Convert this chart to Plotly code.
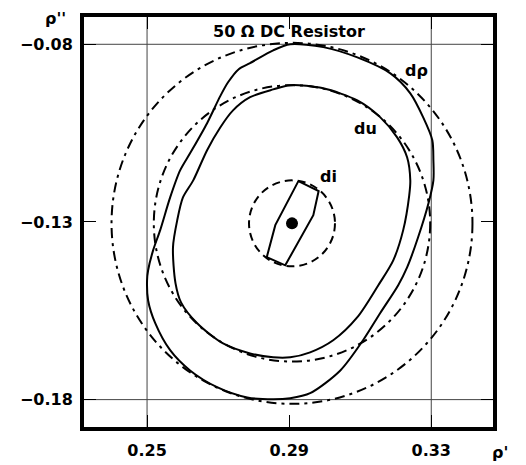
import plotly.graph_objects as go

# ---- data ----
drho_x = [0.2903, 0.2996, 0.3092, 0.3185, 0.3241, 0.3277, 0.3303, 0.3306, 0.3306, 0.3292, 0.3263, 0.3232,
          0.3207, 0.3156, 0.3108, 0.3044, 0.2959, 0.2903, 0.2855, 0.2782, 0.2697, 0.2621, 0.2565, 0.2523,
          0.2503, 0.2500, 0.2503, 0.2517, 0.2537, 0.2565, 0.2593, 0.2621, 0.2669, 0.2706, 0.2728, 0.2758,
          0.2790, 0.2855, 0.2903]
drho_y = [-0.0800, -0.0808, -0.0837, -0.0882, -0.0938, -0.1005, -0.1070, -0.1126, -0.1183, -0.1248, -0.1343, -0.1428,
          -0.1478, -0.1557, -0.1633, -0.1718, -0.1782, -0.1796, -0.1799, -0.1794, -0.1765, -0.1718, -0.1661, -0.1585,
          -0.1521, -0.1464, -0.1436, -0.1380, -0.1323, -0.1231, -0.1155, -0.1107, -0.1022, -0.0946, -0.0907, -0.0870,
          -0.0853, -0.0817, -0.0800]

du_x = [0.2903, 0.2996, 0.3092, 0.3156, 0.3204, 0.3232, 0.3241, 0.3238, 0.3221, 0.3193, 0.3151, 0.3092,
        0.3024, 0.2959, 0.2903, 0.2855, 0.2790, 0.2714, 0.2641, 0.2596, 0.2580, 0.2573, 0.2585, 0.2601,
        0.2630, 0.2669, 0.2706, 0.2742, 0.2790, 0.2855, 0.2903]
du_y = [-0.0915, -0.0924, -0.0958, -0.1005, -0.1062, -0.1118, -0.1183, -0.1225, -0.1323, -0.1408, -0.1478, -0.1568,
        -0.1633, -0.1667, -0.1681, -0.1681, -0.1670, -0.1642, -0.1585, -0.1527, -0.1472, -0.1371, -0.1295, -0.1231,
        -0.1183, -0.1098, -0.1034, -0.0986, -0.0949, -0.0927, -0.0915]

di_x = [0.2926, 0.2983, 0.2968, 0.2889, 0.2837, 0.2861, 0.2926]
di_y = [-0.1185, -0.1213, -0.1281, -0.1422, -0.1399, -0.1309, -0.1185]

center = (0.2908, -0.1304)
radii = {"drho": 0.0508, "du": 0.0389, "di": 0.0121}

x_ticks = [0.25, 0.29, 0.33]
y_ticks = [-0.18, -0.13, -0.08]
x_grid = [0.25, 0.33]
y_grid = [-0.18, -0.08]

labels = [("dρ", 0.3258, -0.0873), ("du", 0.3114, -0.1036), ("di", 0.3010, -0.1172)]
title = "50 Ω DC Resistor"

FONT = "DejaVu Sans"

fig = go.Figure()

line_style = dict(color="black", width=2)
fig.add_trace(go.Scatter(x=drho_x, y=drho_y, mode="lines", line=dict(**line_style, shape="spline", smoothing=0.8),
                         hoverinfo="skip", showlegend=False))
fig.add_trace(go.Scatter(x=du_x, y=du_y, mode="lines", line=dict(**line_style, shape="spline", smoothing=0.8),
                         hoverinfo="skip", showlegend=False))
fig.add_trace(go.Scatter(x=di_x, y=di_y, mode="lines", line=line_style, hoverinfo="skip", showlegend=False))
fig.add_trace(go.Scatter(x=[center[0]], y=[center[1]], mode="markers",
                         marker=dict(color="black", size=12), hoverinfo="skip", showlegend=False))

shapes = []
for gx in x_grid:
    shapes.append(dict(type="line", xref="x", yref="paper", x0=gx, x1=gx, y0=0, y1=1,
                       line=dict(color="#444", width=1), layer="below"))
for gy in y_grid:
    shapes.append(dict(type="line", xref="paper", yref="y", x0=0, x1=1, y0=gy, y1=gy,
                       line=dict(color="#444", width=1), layer="below"))
dashes = {"drho": "10px,5px,3px,5px", "du": "10px,5px,3px,5px", "di": "8px,5px"}
for key, r in radii.items():
    shapes.append(dict(type="circle", xref="x", yref="y",
                       x0=center[0] - r, x1=center[0] + r, y0=center[1] - r, y1=center[1] + r,
                       line=dict(color="black", width=2, dash=dashes[key])))

bold = dict(family=FONT, size=16, color="black", weight="bold")
annotations = [dict(x=x, y=y, text=t, showarrow=False, xref="x", yref="y", font=bold) for t, x, y in labels]
annotations.append(dict(x=0.5, y=1, xref="paper", yref="paper", yanchor="top", yshift=-3, text=title,
                        showarrow=False, font=bold))

# the page body adds an 8px offset; margins are set so the frame lands where the reference has it
W, H = 526, 465
OFF = 8
L, R, T, B = 76, 41, 9, 46
for text, px, py in [("ρ'", 500, 452), ("ρ''", 55, 18)]:
    annotations.append(dict(x=(px - OFF - L) / (W - L - R), y=1 - (py - OFF - T) / (H - T - B),
                            xref="paper", yref="paper", xanchor="center", yanchor="middle",
                            text=text, showarrow=False, font=bold))

axis_common = dict(showgrid=False, zeroline=False, showline=True, linecolor="black", linewidth=4,
                   mirror="ticks", ticks="inside", ticklen=12, tickwidth=1, tickcolor="black",
                   automargin=False, tickfont=bold)

fig.update_layout(
    width=W, height=H, margin=dict(l=L, r=R, t=T, b=B, autoexpand=False),
    paper_bgcolor="white", plot_bgcolor="white",
    shapes=shapes, annotations=annotations,
    xaxis=dict(range=[0.23225, 0.34738], tickvals=x_ticks, ticktext=[f"{v:.2f}" for v in x_ticks],
               ticklabelstandoff=6, **axis_common),
    yaxis=dict(range=[-0.18771, -0.07232], tickvals=y_ticks, ticktext=[f"\u2212{abs(v):.2f}" for v in y_ticks],
               ticklabelstandoff=4, **axis_common),
)

fig.write_html("out.html")
